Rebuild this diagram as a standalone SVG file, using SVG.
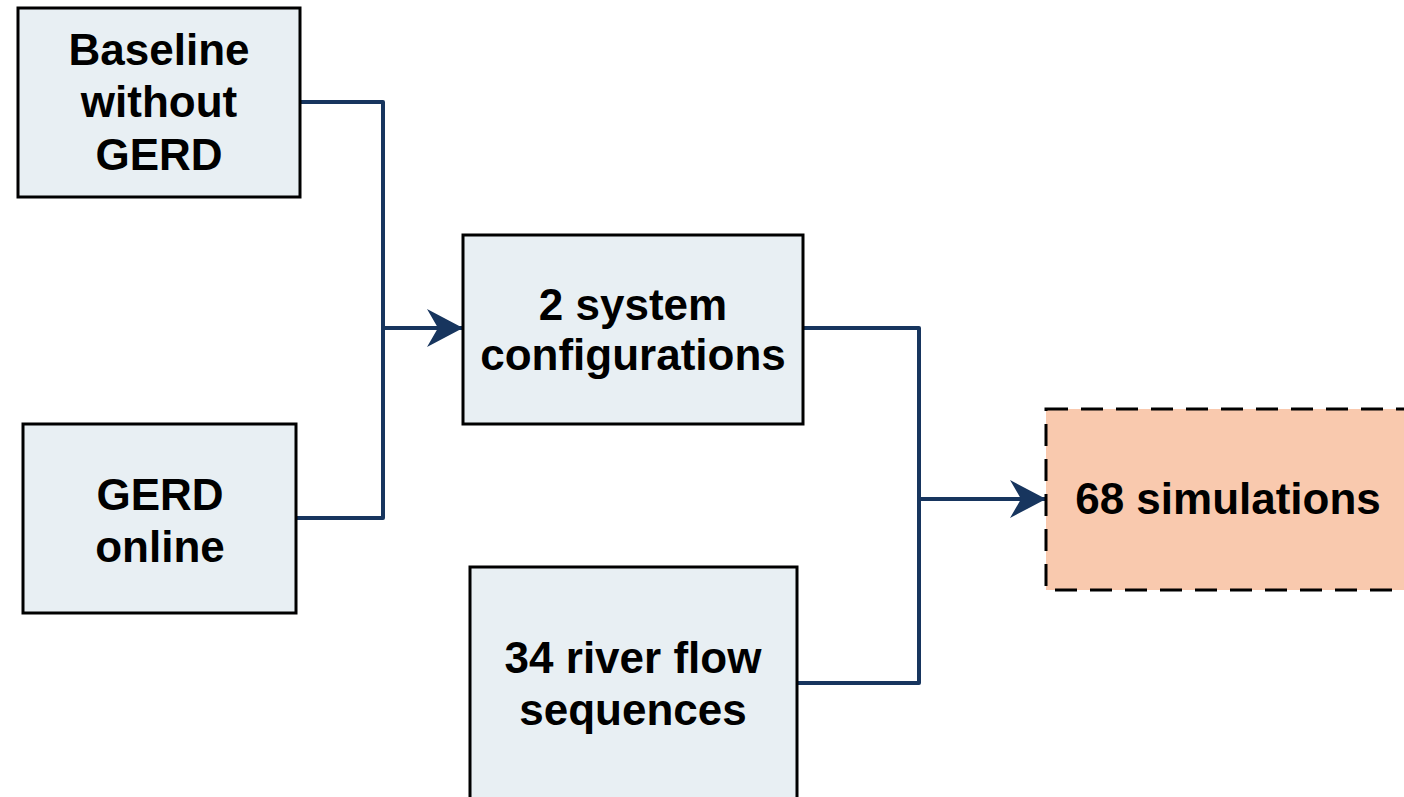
<svg xmlns="http://www.w3.org/2000/svg" width="1404" height="797" viewBox="0 0 1404 797">
  <style>
    .box { fill: #E8EFF3; stroke: #000000; stroke-width: 3; }
    .result { fill: #F9C9AE; stroke: #000000; stroke-width: 3; stroke-dasharray: 22 13; }
    .label { font-family: "Liberation Sans", Arial, sans-serif; font-weight: bold; font-size: 44px; fill: #000000; text-anchor: middle; }
    .wire { fill: none; stroke: #17355E; stroke-width: 4; stroke-linejoin: round; }
  </style>
  <defs>
    <marker id="arrow" markerUnits="userSpaceOnUse" markerWidth="40" markerHeight="44" refX="36" refY="21" orient="auto">
      <path d="M36,21 L0,2 L11,21 L0,40 Z" fill="#17355E"/>
    </marker>
  </defs>

  <g id="connectors">
    <path class="wire" d="M300,102 H383 V518 H297"/>
    <path class="wire" d="M383,328 H463" marker-end="url(#arrow)"/>
    <path class="wire" d="M803,328 H919 V683 H797"/>
    <path class="wire" d="M919,499 H1046" marker-end="url(#arrow)"/>
  </g>

  <g id="baseline">
    <rect class="box" x="18" y="8" width="282" height="189"/>
    <text class="label" x="159" y="65">Baseline</text>
    <text class="label" x="159" y="117">without</text>
    <text class="label" x="159" y="170">GERD</text>
  </g>

  <g id="gerd-online">
    <rect class="box" x="23" y="424" width="273" height="189"/>
    <text class="label" x="160" y="510">GERD</text>
    <text class="label" x="160" y="562">online</text>
  </g>

  <g id="system-configurations">
    <rect class="box" x="463" y="235" width="340" height="189"/>
    <text class="label" x="633" y="320">2 system</text>
    <text class="label" x="633" y="370">configurations</text>
  </g>

  <g id="river-flow-sequences">
    <rect class="box" x="470" y="567" width="327" height="245"/>
    <text class="label" x="633" y="673">34 river flow</text>
    <text class="label" x="633" y="725">sequences</text>
  </g>

  <g id="simulations">
    <rect class="result" x="1046" y="409" width="380" height="181"/>
    <text class="label" x="1228" y="514">68 simulations</text>
  </g>
</svg>
